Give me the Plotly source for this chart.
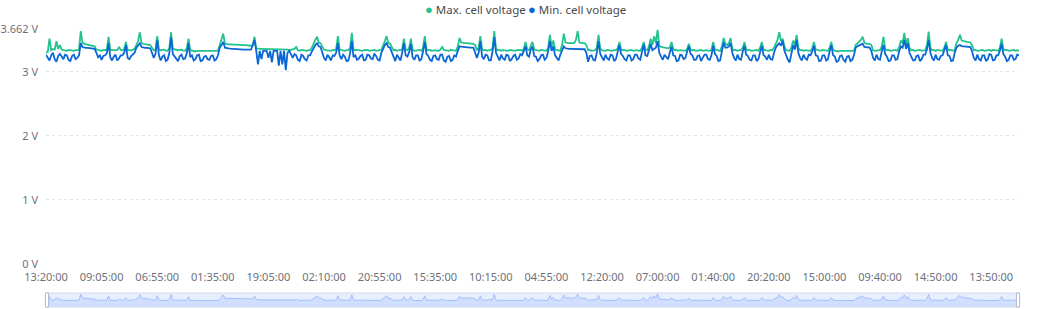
import plotly.graph_objects as go

# ---- data (millivolts), one row per x-axis label interval (32 samples) ----
max_mv = [
    3300,3310, 3520,3340, 3360,3350, 3480,3360, 3420,3350, 3340,3335, 3330,3345, 3340,3330, 3330,3340, 3340,3345, 3640,3460, 3440,3435, 3430,3425, 3420,3410, 3400,3350, 3340,3335,
    3330,3345, 3340,3350, 3550,3340, 3340,3345, 3350,3340, 3390,3345, 3340,3350, 3470,3340, 3340,3335, 3350,3360, 3420,3480, 3620,3450, 3440,3435, 3430,3425, 3420,3380, 3340,3345,
    3560,3350, 3340,3345, 3350,3335, 3330,3380, 3620,3360, 3350,3340, 3340,3345, 3350,3335, 3330,3360, 3520,3340, 3330,3325, 3320,3330, 3330,3325, 3320,3330, 3330,3325, 3320,3325,
    3330,3325, 3320,3330, 3420,3500, 3600,3440, 3430,3430, 3430,3430, 3430,3425, 3420,3420, 3420,3420, 3420,3418, 3415,3413, 3410,3420, 3550,3370, 3360,3360, 3360,3360, 3360,3359,
    3358,3358, 3358,3357, 3357,3357, 3356,3356, 3356,3355, 3355,3350, 3340,3345, 3350,3360, 3390,3340, 3330,3345, 3340,3335, 3330,3340, 3340,3380, 3450,3500, 3550,3460, 3450,3400,
    3350,3340, 3340,3335, 3330,3345, 3340,3360, 3560,3350, 3340,3335, 3330,3340, 3340,3370, 3610,3350, 3340,3345, 3340,3335, 3330,3340, 3340,3345, 3330,3335, 3340,3345, 3330,3340,
    3340,3345, 3430,3480, 3560,3450, 3440,3400, 3340,3345, 3330,3340, 3340,3360, 3520,3350, 3340,3380, 3520,3345, 3330,3335, 3340,3345, 3330,3380, 3560,3350, 3340,3345, 3330,3340,
    3340,3335, 3330,3350, 3390,3345, 3340,3335, 3330,3345, 3340,3335, 3330,3400, 3530,3460, 3450,3450, 3450,3448, 3445,3442, 3440,3420, 3340,3380, 3560,3350, 3340,3345, 3330,3340,
    3340,3380, 3640,3360, 3340,3345, 3330,3340, 3340,3335, 3330,3345, 3340,3335, 3330,3340, 3340,3345, 3330,3360, 3470,3350, 3340,3400, 3470,3350, 3340,3335, 3330,3345, 3340,3335,
    3330,3380, 3580,3400, 3490,3350, 3340,3335, 3330,3420, 3600,3460, 3450,3450, 3450,3450, 3450,3500, 3640,3460, 3450,3450, 3450,3420, 3340,3345, 3330,3340, 3340,3380, 3580,3360,
    3340,3335, 3330,3345, 3340,3335, 3330,3340, 3340,3370, 3470,3350, 3340,3345, 3330,3335, 3340,3345, 3330,3340, 3340,3335, 3330,3380, 3470,3350, 3340,3400, 3520,3420, 3560,3450,
    3660,3400, 3390,3385, 3380,3375, 3370,3380, 3470,3360, 3340,3345, 3330,3340, 3340,3335, 3330,3360, 3440,3350, 3340,3345, 3330,3335, 3340,3345, 3330,3340, 3340,3335, 3330,3340,
    3470,3350, 3340,3335, 3330,3400, 3530,3440, 3420,3450, 3530,3360, 3340,3345, 3330,3340, 3340,3380, 3470,3350, 3340,3345, 3330,3335, 3340,3345, 3330,3380, 3470,3350, 3340,3335,
    3330,3345, 3340,3380, 3440,3500, 3620,3480, 3520,3400, 3340,3335, 3330,3380, 3490,3420, 3580,3380, 3340,3345, 3330,3340, 3340,3335, 3330,3370, 3470,3350, 3340,3335, 3330,3345,
    3340,3335, 3330,3380, 3470,3340, 3330,3325, 3320,3330, 3330,3325, 3320,3330, 3330,3325, 3320,3330, 3420,3450, 3480,3500, 3550,3460, 3440,3440, 3440,3420, 3340,3335, 3330,3340,
    3340,3400, 3550,3360, 3340,3345, 3330,3335, 3340,3345, 3330,3390, 3490,3450, 3610,3420, 3530,3380, 3340,3345, 3330,3335, 3340,3345, 3330,3335, 3340,3420, 3630,3380, 3340,3345,
    3330,3345, 3340,3335, 3330,3380, 3470,3350, 3340,3345, 3330,3340, 3450,3500, 3580,3490, 3480,3475, 3470,3465, 3460,3420, 3340,3345, 3330,3335, 3340,3345, 3330,3335, 3340,3345,
    3330,3345, 3340,3335, 3330,3380, 3520,3360, 3340,3345, 3330,3335, 3340,3345, 3330,3340, 3330,
]

min_mv = [
    3270,3230, 3180,3260, 3300,3200, 3160,3250, 3280,3240, 3200,3270, 3260,3190, 3170,3250, 3270,3200, 3220,3260, 3450,3390, 3380,3378, 3375,3372, 3370,3365, 3360,3300, 3230,3260,
    3190,3250, 3260,3290, 3450,3230, 3180,3240, 3270,3180, 3210,3260, 3260,3300, 3420,3220, 3200,3250, 3270,3300, 3380,3420, 3450,3390, 3380,3378, 3375,3372, 3370,3300, 3220,3280,
    3500,3260, 3180,3240, 3260,3170, 3190,3300, 3540,3280, 3240,3190, 3170,3250, 3270,3200, 3210,3290, 3450,3230, 3260,3180, 3200,3260, 3270,3170, 3180,3240, 3250,3200, 3190,3250,
    3260,3180, 3200,3260, 3380,3420, 3470,3380, 3370,3368, 3365,3362, 3360,3360, 3360,3358, 3355,3352, 3350,3350, 3350,3350, 3350,3420, 3500,3330, 3120,3330, 3200,3330, 3330,3330,
    3220,3330, 3150,3330, 3330,3330, 3100,3330, 3120,3330, 3030,3300, 3330,3260, 3220,3280, 3260,3190, 3170,3270, 3250,3200, 3180,3260, 3260,3320, 3380,3420, 3450,3400, 3390,3300,
    3220,3180, 3270,3230, 3180,3260, 3250,3300, 3450,3260, 3200,3270, 3240,3170, 3180,3290, 3480,3230, 3260,3190, 3210,3250, 3270,3180, 3190,3270, 3260,3210, 3200,3280, 3250,3190,
    3180,3300, 3370,3420, 3450,3390, 3380,3300, 3220,3170, 3270,3220, 3180,3300, 3450,3260, 3240,3310, 3440,3230, 3190,3260, 3260,3180, 3200,3320, 3470,3280, 3250,3190, 3170,3250,
    3260,3200, 3190,3270, 3270,3180, 3160,3240, 3250,3170, 3190,3260, 3240,3330, 3400,3395, 3390,3388, 3385,3383, 3380,3380, 3380,3300, 3220,3300, 3480,3240, 3200,3270, 3260,3180,
    3180,3320, 3540,3300, 3240,3180, 3270,3210, 3190,3270, 3260,3170, 3200,3250, 3270,3190, 3210,3280, 3260,3320, 3400,3260, 3240,3350, 3400,3250, 3240,3170, 3200,3260, 3270,3190,
    3220,3320, 3480,3330, 3400,3260, 3220,3180, 3270,3340, 3400,3370, 3360,3360, 3360,3360, 3360,3360, 3360,3358, 3355,3355, 3355,3300, 3160,3250, 3260,3190, 3180,3300, 3480,3280,
    3220,3180, 3270,3210, 3190,3270, 3260,3170, 3200,3300, 3420,3280, 3250,3200, 3180,3260, 3260,3180, 3200,3270, 3270,3210, 3190,3310, 3430,3260, 3250,3330, 3440,3340, 3360,3380,
    3480,3300, 3240,3190, 3270,3230, 3200,3300, 3400,3260, 3250,3170, 3180,3270, 3260,3200, 3220,3320, 3400,3280, 3260,3190, 3190,3250, 3260,3170, 3210,3270, 3270,3200, 3190,3260,
    3410,3280, 3250,3170, 3180,3330, 3460,3380, 3380,3400, 3450,3300, 3220,3180, 3270,3200, 3190,3320, 3410,3270, 3250,3190, 3180,3260, 3260,3170, 3200,3310, 3410,3260, 3240,3190,
    3270,3200, 3190,3300, 3380,3420, 3450,3410, 3490,3330, 3240,3190, 3150,3300, 3420,3350, 3500,3300, 3220,3180, 3270,3210, 3190,3270, 3260,3320, 3410,3260, 3250,3170, 3180,3260,
    3260,3180, 3200,3320, 3420,3260, 3240,3160, 3170,3250, 3260,3190, 3160,3240, 3250,3170, 3190,3260, 3380,3400, 3410,3420, 3440,3390, 3385,3382, 3380,3330, 3220,3180, 3270,3200,
    3190,3320, 3420,3280, 3240,3170, 3180,3260, 3260,3190, 3200,3320, 3400,3380, 3500,3360, 3450,3300, 3240,3180, 3180,3250, 3260,3170, 3200,3270, 3270,3350, 3500,3300, 3220,3180,
    3270,3200, 3190,3250, 3260,3330, 3420,3260, 3250,3170, 3180,3300, 3380,3410, 3420,3405, 3400,3398, 3395,3392, 3390,3320, 3220,3180, 3270,3200, 3180,3260, 3260,3170, 3200,3280,
    3270,3180, 3190,3260, 3260,3330, 3440,3280, 3240,3170, 3190,3260, 3260,3190, 3200,3270, 3260,
]

time_labels = ["13:20:00", "09:05:00", "06:55:00", "01:35:00", "19:05:00", "02:10:00",
               "20:55:00", "15:35:00", "10:15:00", "04:55:00", "12:20:00", "07:00:00",
               "01:40:00", "20:20:00", "15:00:00", "09:40:00", "14:50:00", "13:50:00"]
label_every = 32

y_ticks = [0, 1, 2, 3, 3.662]
y_tick_text = ["0 V", "1 V", "2 V", "3 V", "3.662 V"]

series_names = ["Max. cell voltage", "Min. cell voltage"]
colors = ["#22c38e", "#0b67d5"]

max_v = [v / 1000 for v in max_mv]
min_v = [v / 1000 for v in min_mv]
x_max = list(range(len(max_v)))
x_min = list(range(len(min_v)))
n_last = max(len(max_v), len(min_v)) - 1

W, H = 1050, 309
L, R = 46, 1019
FONT = "Noto Sans"


def px_x(px):
    return (px - L) / (R - L)


def px_y(py):
    return (H - py) / H


fig = go.Figure()
fig.add_trace(go.Scatter(x=x_max, y=max_v, mode="lines", name=series_names[0],
                         line=dict(color=colors[0], width=1.8), showlegend=False,
                         xaxis="x", yaxis="y"))
fig.add_trace(go.Scatter(x=x_min, y=min_v, mode="lines", name=series_names[1],
                         line=dict(color=colors[1], width=1.8), showlegend=False,
                         xaxis="x", yaxis="y"))
# data-zoom slider shadow
fig.add_trace(go.Scatter(x=x_max, y=max_v, mode="lines", showlegend=False,
                         line=dict(color="#8fb0f7", width=0.7), fill="tozeroy",
                         fillcolor="rgba(143,176,247,0.25)", hoverinfo="skip",
                         xaxis="x2", yaxis="y2"))

tickvals = [i * label_every for i in range(len(time_labels))]

fig.update_layout(
    width=W, height=H,
    margin=dict(l=L, r=W - R, t=0, b=0, pad=0),
    paper_bgcolor="white", plot_bgcolor="white",
    font=dict(family=FONT, size=11, color="#6e7079"),
    xaxis=dict(range=[0, n_last], tickmode="array", tickvals=tickvals, ticktext=time_labels,
               showgrid=False, zeroline=False, showline=False, ticks="", automargin=False,
               ticklabelstandoff=5, tickfont=dict(size=11, color="#6e7079"), anchor="y"),
    yaxis=dict(domain=[px_y(264), px_y(29.6)], range=[0, 3.662], tickmode="array",
               tickvals=y_ticks, ticktext=y_tick_text, showgrid=True, gridcolor="#e3e6ec",
               griddash="dot", gridwidth=1, zeroline=False, showline=False, ticks="",
               automargin=False, ticklabelstandoff=7,
               tickfont=dict(size=11, color="#6e7079"), anchor="x"),
    xaxis2=dict(range=[0, n_last], visible=False, anchor="y2", automargin=False),
    yaxis2=dict(domain=[px_y(307), px_y(293)], range=[3.01, 3.70], visible=False,
                anchor="x2", automargin=False),
    showlegend=False,
)

# slider frame and handles
fig.add_shape(type="rect", xref="paper", yref="paper", x0=px_x(46), x1=px_x(1019),
              y0=px_y(307), y1=px_y(293), fillcolor="rgba(135,175,255,0.2)",
              line=dict(color="#d2dbee", width=1), layer="above")
for hx in (47, 1018):
    fig.add_shape(type="rect", xref="paper", yref="paper", x0=px_x(hx - 1.6), x1=px_x(hx + 1.6),
                  y0=px_y(307), y1=px_y(293), fillcolor="white",
                  line=dict(color="#acb8d1", width=1), layer="above")

# legend (centered at top)
fig.add_annotation(xref="paper", yref="paper", x=px_x(423), y=px_y(9), xanchor="left",
                   yanchor="middle", showarrow=False,
                   text='<span style="color:%s;font-size:13px">●</span> %s' % (colors[0], series_names[0]),
                   font=dict(family=FONT, size=11.5, color="#4a4a4a"))
fig.add_annotation(xref="paper", yref="paper", x=px_x(526), y=px_y(9), xanchor="left",
                   yanchor="middle", showarrow=False,
                   text='<span style="color:%s;font-size:13px">●</span> %s' % (colors[1], series_names[1]),
                   font=dict(family=FONT, size=11.5, color="#4a4a4a"))

fig.write_html("out.html")
